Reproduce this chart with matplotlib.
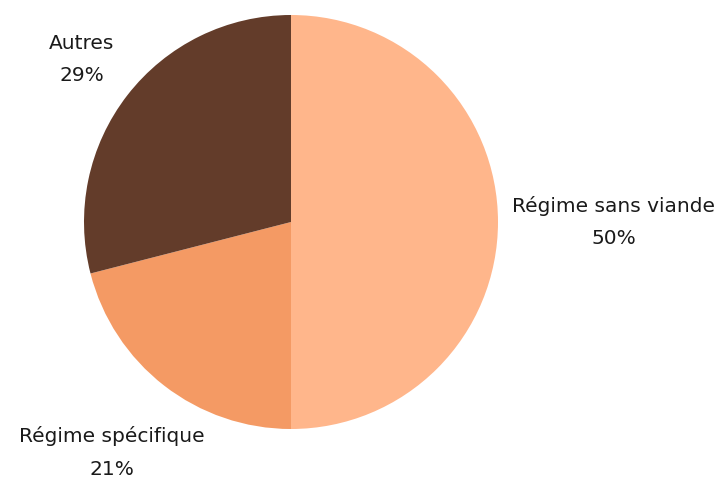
import numpy as np
import matplotlib.pyplot as plt

labels = ["Régime sans viande", "Régime spécifique", "Autres"]
shares = [50, 21, 29]
colors = ["#FFB68B", "#F49A64", "#633C2A"]
label_dist = [1.56, 1.41, 1.28]

W, H = 723, 479
fig = plt.figure(figsize=(W / 100, H / 100), dpi=100)
ax = fig.add_axes([0, 0, 1, 1])

cx, cy, r = 291, H - 222, 207
wedges, _ = ax.pie(shares, colors=colors, startangle=90, counterclock=False,
                   center=(cx, cy), radius=r, frame=True)
ax.set_xlim(0, W)
ax.set_ylim(0, H)
ax.set_aspect("equal")
ax.axis("off")

for w, lab, val, d in zip(wedges, labels, shares, label_dist):
    ang = np.deg2rad((w.theta1 + w.theta2) / 2)
    x = cx + d * r * np.cos(ang)
    y = cy + d * r * np.sin(ang)
    ax.text(x, y, f"{lab}\n{val}%", ha="center", va="center", fontsize=14.5,
            family="DejaVu Sans", color="#1a1a1a", linespacing=1.9)

fig.savefig("out.png", dpi=100)
